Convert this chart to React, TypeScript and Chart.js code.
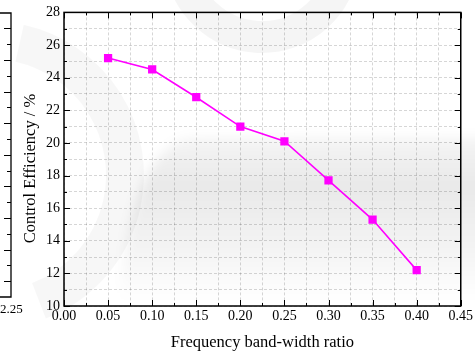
import React, { useEffect, useRef } from "react";
import { Chart, registerables } from "chart.js";

Chart.register(...registerables);

const xValues = [0.05, 0.1, 0.15, 0.2, 0.25, 0.3, 0.35, 0.4];
const efficiency = [25.2, 24.5, 22.8, 21.0, 20.1, 17.7, 15.3, 12.2];
const xTickLabels = ["0.00", "0.05", "0.10", "0.15", "0.20", "0.25", "0.30", "0.35", "0.40", "0.45"];
const yTickLabels = ["10", "12", "14", "16", "18", "20", "22", "24", "26", "28"];
const xTitle = "Frequency band-width ratio";
const yTitle = "Control Efficiency / %";
const leftPanelLabel = "2.25";

const FONT = "'Liberation Serif', 'Times New Roman', serif";

const backgroundPlugin = {
  id: "bgDecor",
  beforeDraw(chart: any) {
    const ctx = chart.ctx;
    ctx.save();
    ctx.fillStyle = "#ffffff";
    ctx.fillRect(0, 0, chart.width, chart.height);
    // soft gray cloud lower right
    ctx.save();
    ctx.filter = "blur(6px)";
    const lg = ctx.createLinearGradient(0, 137, 0, 300);
    lg.addColorStop(0, "rgba(0,0,0,0.04)");
    lg.addColorStop(0.3, "rgba(0,0,0,0.085)");
    lg.addColorStop(0.7, "rgba(0,0,0,0.045)");
    lg.addColorStop(1, "rgba(0,0,0,0)");
    ctx.fillStyle = lg;
    ctx.beginPath();
    ctx.moveTo(120, 300);
    ctx.quadraticCurveTo(130, 150, 190, 138);
    ctx.lineTo(490, 137);
    ctx.lineTo(490, 300);
    ctx.closePath();
    ctx.fill();
    ctx.restore();
    // top arc watermark
    ctx.strokeStyle = "rgba(0,0,0,0.04)";
    ctx.lineWidth = 32;
    ctx.beginPath();
    ctx.arc(262, -45, 82, 0.05, Math.PI - 0.1, false);
    ctx.stroke();
    // left crescent watermark
    ctx.strokeStyle = "rgba(0,0,0,0.03)";
    ctx.lineWidth = 38;
    ctx.beginPath();
    ctx.arc(-10, 175, 135, -1.35, 1.2, false);
    ctx.stroke();
    // partial left panel
    ctx.strokeStyle = "#000";
    ctx.lineWidth = 1.3;
    ctx.beginPath();
    ctx.moveTo(0, 13);
    ctx.lineTo(11, 13);
    ctx.lineTo(11, 297);
    ctx.lineTo(0, 297);
    ctx.stroke();
    ctx.lineWidth = 1;
    for (let i = 0; i < 17; i++) {
      const y = Math.round(28.3 + i * 15.8) + 0.5;
      ctx.beginPath();
      ctx.moveTo(11, y);
      ctx.lineTo(i % 2 === 0 ? 4 : 7, y);
      ctx.stroke();
    }
    ctx.fillStyle = "#000";
    ctx.font = "13px " + FONT;
    ctx.textAlign = "left";
    ctx.textBaseline = "alphabetic";
    ctx.fillText(leftPanelLabel, 0, 313);
    ctx.restore();
  },
};

const framePlugin = {
  id: "frameTicks",
  afterDatasetsDraw(chart: any) {
    const { ctx, chartArea: a, scales } = chart;
    const xs = scales.x;
    const ys = scales.y;
    ctx.save();
    ctx.strokeStyle = "#000";
    ctx.lineWidth = 1;
    for (let i = 0; i <= 18; i++) {
      const v = i * 0.025;
      const px = Math.round(xs.getPixelForValue(v)) + 0.5;
      const len = i % 2 === 0 ? 6 : 3;
      ctx.beginPath();
      ctx.moveTo(px, a.bottom);
      ctx.lineTo(px, a.bottom - len);
      ctx.moveTo(px, a.top);
      ctx.lineTo(px, a.top + len);
      ctx.stroke();
    }
    for (let i = 0; i <= 18; i++) {
      const v = 10 + i;
      const py = Math.round(ys.getPixelForValue(v)) + 0.5;
      const len = i % 2 === 0 ? 6 : 3;
      ctx.beginPath();
      ctx.moveTo(a.left, py);
      ctx.lineTo(a.left + len, py);
      ctx.moveTo(a.right, py);
      ctx.lineTo(a.right - len, py);
      ctx.stroke();
    }
    ctx.lineWidth = 1.5;
    ctx.strokeRect(a.left, a.top, a.right - a.left, a.bottom - a.top);
    // y title
    ctx.fillStyle = "#000";
    ctx.font = "16.5px " + FONT;
    ctx.textAlign = "center";
    ctx.textBaseline = "alphabetic";
    ctx.translate(35, 168.5);
    ctx.rotate(-Math.PI / 2);
    ctx.fillText(yTitle, 0, 0);
    ctx.restore();
  },
};

export default function App() {
  const ref = useRef<HTMLCanvasElement | null>(null);
  useEffect(() => {
    if (!ref.current) return;
    const chart = new Chart(ref.current, {
      type: "scatter",
      data: {
        datasets: [
          {
            data: xValues.map((x, i) => ({ x, y: efficiency[i] })),
            showLine: true,
            borderColor: "#ff00ff",
            backgroundColor: "#ff00ff",
            borderWidth: 1.6,
            pointStyle: "rect",
            pointRadius: 4.7,
            pointHoverRadius: 4.7,
          },
        ],
      },
      options: {
        animation: false,
        responsive: false,
        events: [],
        layout: { padding: { left: 0, right: 11, top: 8, bottom: 0 } },
        plugins: { legend: { display: false }, tooltip: { enabled: false } },
        scales: {
          x: {
            type: "linear",
            min: 0,
            max: 0.45,
            afterBuildTicks: (s: any) => {
              const t = [];
              for (let i = 0; i <= 18; i++) t.push({ value: i * 0.025 });
              s.ticks = t;
            },
            afterFit: (s: any) => {
              s.height = 50;
            },
            grid: { color: "rgba(0,0,0,0.16)", drawTicks: false, lineWidth: 1 },
            border: { display: false, dash: [3, 2] },
            ticks: {
              autoSkip: false,
              maxRotation: 0,
              padding: 2,
              color: "#000",
              font: { family: FONT, size: 14 },
              callback: (v: any) => {
                const i = Math.round(Number(v) / 0.025);
                return i % 2 === 0 ? xTickLabels[i / 2] : "";
              },
            },
            title: {
              display: true,
              text: xTitle,
              color: "#000",
              font: { family: FONT, size: 16.5, lineHeight: 1 },
              padding: { top: 5, bottom: 5 },
            },
          },
          y: {
            type: "linear",
            min: 10,
            max: 28,
            afterBuildTicks: (s: any) => {
              const t = [];
              for (let i = 0; i <= 18; i++) t.push({ value: 10 + i });
              s.ticks = t;
            },
            afterFit: (s: any) => {
              s.width = 64;
            },
            grid: { color: "rgba(0,0,0,0.16)", drawTicks: false, lineWidth: 1 },
            border: { display: false, dash: [3, 2] },
            ticks: {
              autoSkip: false,
              padding: 4,
              color: "#000",
              font: { family: FONT, size: 14 },
              callback: (v: any) => {
                const i = Math.round(Number(v) - 10);
                return i % 2 === 0 ? yTickLabels[i / 2] : "";
              },
            },
            title: { display: false },
          },
        },
      },
      plugins: [backgroundPlugin, framePlugin],
    } as any);
    return () => chart.destroy();
  }, []);
  return (
    <div style={{ position: "fixed", left: 0, top: 0, width: 475, height: 356 }}>
      <canvas ref={ref} width={475} height={356} style={{ width: 475, height: 356 }} />
    </div>
  );
}
